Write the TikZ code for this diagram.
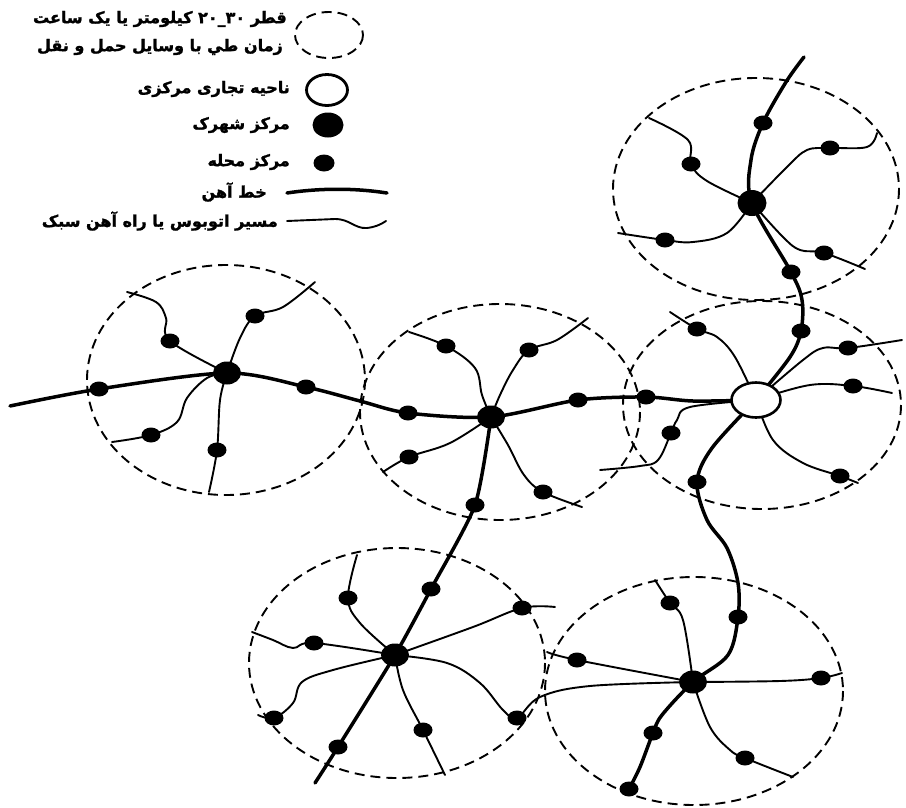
\documentclass[tikz,border=0pt]{standalone}
\usepackage{fontspec}
\newfontfamily\fa[Script=Arabic, BoldFeatures={FakeBold=1.5}]{DejaVu Sans}
\TeXXeTstate=1
\usetikzlibrary{shapes.geometric,backgrounds}
\begin{document}
\begin{tikzpicture}[x=1pt,y=-1pt,
  rail/.style={line width=3.5pt, line cap=round, line join=round},
  bus/.style={line width=1.9pt, line cap=round, line join=round},
  zone/.style={dash pattern=on 10pt off 6pt, line width=1.9pt},
  hub/.style={ellipse, fill=black, minimum width=28pt, minimum height=23pt, inner sep=0pt},
  nbh/.style={ellipse, fill=black, minimum width=19pt, minimum height=15pt, inner sep=0pt},
  cbd/.style={ellipse, draw, fill=white, line width=2.6pt, minimum width=49pt, minimum height=35pt, inner sep=0pt},
  leg/.style={anchor=east, inner sep=0pt, font=\fa\bfseries\fontsize{16}{19}\selectfont},
  sm/.style={smooth, tension=0.6}
]
\useasboundingbox (0,0) rectangle (906,807);

% ---------- zones (dashed) ----------
\draw[zone] (226,380) ellipse (139 and 115);
\draw[zone] (500,412) ellipse (140 and 108);
\draw[zone] (756,189) ellipse (143 and 111);
\draw[zone] (762,405) ellipse (139 and 104);
\draw[zone] (397,663) ellipse (148 and 115);
\draw[zone] (694,691) ellipse (149 and 114);

% ---------- hubs ----------
\node[hub] (H1) at (227,373) {};
\node[hub] (H2) at (491,417) {};
\node[hub, minimum width=29pt, minimum height=26pt] (H3) at (752,203) {};
\node[cbd] (H4) at (756,400) {};
\node[hub] (H5) at (395,655) {};
\node[hub] (H6) at (693,682) {};

% ---------- neighbourhood centres ----------
\node[nbh] (a1) at (99,389) {};
\node[nbh] (a2) at (306,387) {};
\node[nbh] (a3) at (170,341) {};
\node[nbh] (a4) at (255,316) {};
\node[nbh] (a5) at (151,435) {};
\node[nbh] (a6) at (217,450) {};

\node[nbh] (b1) at (408,413) {};
\node[nbh] (b2) at (578,400) {};
\node[nbh] (b3) at (446,346) {};
\node[nbh] (b4) at (529,350) {};
\node[nbh] (b5) at (409,457) {};
\node[nbh] (b6) at (543,492) {};
\node[nbh] (b7) at (475,505) {};

\node[nbh] (c1) at (646,397) {};
\node[nbh] (c2) at (697,329) {};
\node[nbh] (c3) at (801,331) {};
\node[nbh] (c4) at (848,348) {};
\node[nbh] (c5) at (853,386) {};
\node[nbh] (c6) at (840,476) {};
\node[nbh] (c7) at (697,482) {};
\node[nbh] (c8) at (671,433) {};

\node[nbh] (d1) at (763,123) {};
\node[nbh] (d2) at (691,164) {};
\node[nbh] (d3) at (830,148) {};
\node[nbh] (d4) at (665,240) {};
\node[nbh] (d5) at (824,253) {};
\node[nbh] (d6) at (791,272) {};

\node[nbh] (e1) at (431,589) {};
\node[nbh] (e2) at (348,598) {};
\node[nbh] (e3) at (314,643) {};
\node[nbh] (e4) at (274,718) {};
\node[nbh] (e5) at (522,608) {};
\node[nbh] (e6) at (517,718) {};
\node[nbh] (e7) at (423,730) {};
\node[nbh] (e8) at (338,747) {};

\node[nbh] (f1) at (738,617) {};
\node[nbh] (f2) at (670,603) {};
\node[nbh] (f3) at (577,660) {};
\node[nbh] (f4) at (821,678) {};
\node[nbh] (f5) at (745,758) {};
\node[nbh] (f6) at (653,733) {};
\node[nbh] (f7) at (629,789) {};

% ---------- free ends ----------
\coordinate (rW) at (10,406);
\coordinate (rN) at (804,57);
\coordinate (rS) at (315,783);
\coordinate (L1e) at (127,292);
\coordinate (L2e) at (315,282);
\coordinate (L3e) at (112,442);
\coordinate (L4e) at (209,492);
\coordinate (M1e) at (409,332);
\coordinate (M2e) at (588,318);
\coordinate (M3e) at (383,472);
\coordinate (M4e) at (582,507);
\coordinate (T1e) at (649,118);
\coordinate (T2e) at (877,133);
\coordinate (T3e) at (618,233);
\coordinate (T4e) at (865,269);
\coordinate (R1e) at (670,312);
\coordinate (R2e) at (902,340);
\coordinate (R3e) at (892,393);
\coordinate (R4e) at (858,483);
\coordinate (R5e) at (600,470);
\coordinate (B1e) at (357,555);
\coordinate (B2e) at (252,632);
\coordinate (B3e) at (258,715);
\coordinate (B4e) at (555,607);
\coordinate (B6e) at (445,775);
\coordinate (F1e) at (655,580);
\coordinate (F2e) at (547,652);
\coordinate (F3e) at (842,673);
\coordinate (F4e) at (793,777);

\begin{scope}[on background layer]
\fill[white] (0,0) rectangle (906,807);
% ---------- rail lines ----------
\draw[rail] plot[smooth, tension=0.5] coordinates {(rW) (a1.center) (H1.center) (a2.center) (360,401) (b1.center) (H2.center) (b2.center) (c1.center) (693,401) (H4.center)};
\draw[rail] plot[smooth, tension=0.55] coordinates {(H4.center) (790,357) (c3.center) (802,300) (d6.center) (H3.center) (751,160) (d1.center) (786,82) (rN)};
\draw[rail] plot[smooth, tension=0.55] coordinates {(H4.center) (712,448) (c7.center) (707,520) (727,548) (738,583) (f1.center) (728,655) (H6.center) (662,715) (f6.center) (640,767) (f7.center)};
\draw[rail] plot[smooth, tension=0.4] coordinates {(H2.center) (b7.center) (e1.center) (H5.center) (e8.center) (rS)};

% ---------- bus lines: left ----------
\draw[bus] plot[sm] coordinates {(H1.center) (a3.center) (166,318) (156,302) (L1e)};
\draw[bus] plot[sm] coordinates {(H1.center) (240,338) (a4.center) (283,307) (L2e)};
\draw[bus] plot[sm] coordinates {(H1.center) (207,378) (187,398) (177,422) (a5.center) (L3e)};
\draw[bus] plot[sm] coordinates {(H1.center) (220,400) (a6.center) (L4e)};
% middle
\draw[bus] plot[sm] coordinates {(H2.center) (482,395) (475,368) (b3.center) (M1e)};
\draw[bus] plot[sm] coordinates {(H2.center) (500,395) (513,370) (b4.center) (557,340) (M2e)};
\draw[bus] plot[sm] coordinates {(H2.center) (450,443) (b5.center) (M3e)};
\draw[bus] plot[sm] coordinates {(H2.center) (508,445) (524,475) (b6.center) (M4e)};
% top right
\draw[bus] plot[sm] coordinates {(H3.center) (707,181) (d2.center) (688,140) (T1e)};
\draw[bus] plot[sm] coordinates {(H3.center) (787,167) (807,150) (d3.center) (867,147) (T2e)};
\draw[bus] plot[sm] coordinates {(H3.center) (727,233) (693,242) (d4.center) (T3e)};
\draw[bus] plot[sm] coordinates {(H3.center) (783,237) (800,250) (d5.center) (T4e)};
% right
\draw[bus] plot[sm] coordinates {(H4.center) (735,357) (717,337) (c2.center) (R1e)};
\draw[bus] plot[sm] coordinates {(H4.center) (803,360) (823,348) (c4.center) (R2e)};
\draw[bus] plot[sm] coordinates {(H4.center) (810,385) (c5.center) (R3e)};
\draw[bus] plot[sm] coordinates {(H4.center) (773,440) (803,463) (c6.center) (R4e)};
\draw[bus] plot[sm] coordinates {(H4.center) (690,407) (677,420) (c8.center) (658,460) (640,466) (R5e)};
% bottom left
\draw[bus] plot[sm] coordinates {(H5.center) (360,623) (e2.center) (B1e)};
\draw[bus] plot[sm] coordinates {(H5.center) (e3.center) (293,648) (273,640) (B2e)};
\draw[bus] plot[sm] coordinates {(H5.center) (333,670) (302,682) (293,703) (e4.center) (B3e)};
\draw[bus] plot[sm] coordinates {(H5.center) (473,627) (e5.center) (B4e)};
\draw[bus] plot[sm] coordinates {(H5.center) (447,663) (480,683) (503,710) (e6.center) (540,697) (590,686) (H6.center)};
\draw[bus] plot[sm] coordinates {(H5.center) (403,690) (e7.center) (B6e)};
% bottom right
\draw[bus] plot[sm] coordinates {(H6.center) (683,620) (f2.center) (F1e)};
\draw[bus] plot[sm] coordinates {(H6.center) (f3.center) (F2e)};
\draw[bus] plot[sm] coordinates {(H6.center) (780,681) (f4.center) (F3e)};
\draw[bus] plot[sm] coordinates {(H6.center) (710,727) (730,750) (f5.center) (F4e)};
\end{scope}

% ---------- legend ----------
\draw[zone] (329,35) ellipse (34 and 23);
\node[cbd, line width=2.8pt, minimum width=41pt, minimum height=31pt] (Lc) at (327,90) {};
\node[hub, minimum width=31pt, minimum height=25pt] (Lh) at (328,125) {};
\node[nbh, minimum width=21pt, minimum height=17pt] (Ln) at (324,163) {};
\coordinate (Lr1) at (287,193);
\coordinate (Lr2) at (387,193);
\draw[rail] (Lr1) .. controls (320,188) and (355,188) .. (Lr2);
\coordinate (Lb1) at (287,221);
\coordinate (Lb2) at (386,221);
\draw[bus] (Lb1) -- (335,219) .. controls (350,219) and (355,229) .. (367,228) .. controls (375,227) and (380,225) .. (Lb2);

\node[leg] (t1) at (287,19) {\beginR قطر \beginL ۲۰\kern0pt\_\kern0pt۳۰\endL{} کیلومتر یا یک ساعت\endR};
\node[leg] (t2) at (283,47) {\beginR زمان طي با وسايل حمل و نقل\endR};
\node[leg] (t3) at (290,89) {\beginR ناحیه تجاری مرکزی\endR};
\node[leg] (t4) at (290,125) {\beginR مرکز شهرک\endR};
\node[leg] (t5) at (290,162) {\beginR مرکز محله\endR};
\node[leg] (t6) at (267,192) {\beginR خط آهن\endR};
\node[leg] (t7) at (278,221) {\beginR مسیر اتوبوس یا راه آهن سبک\endR};
\end{tikzpicture}
\end{document}
